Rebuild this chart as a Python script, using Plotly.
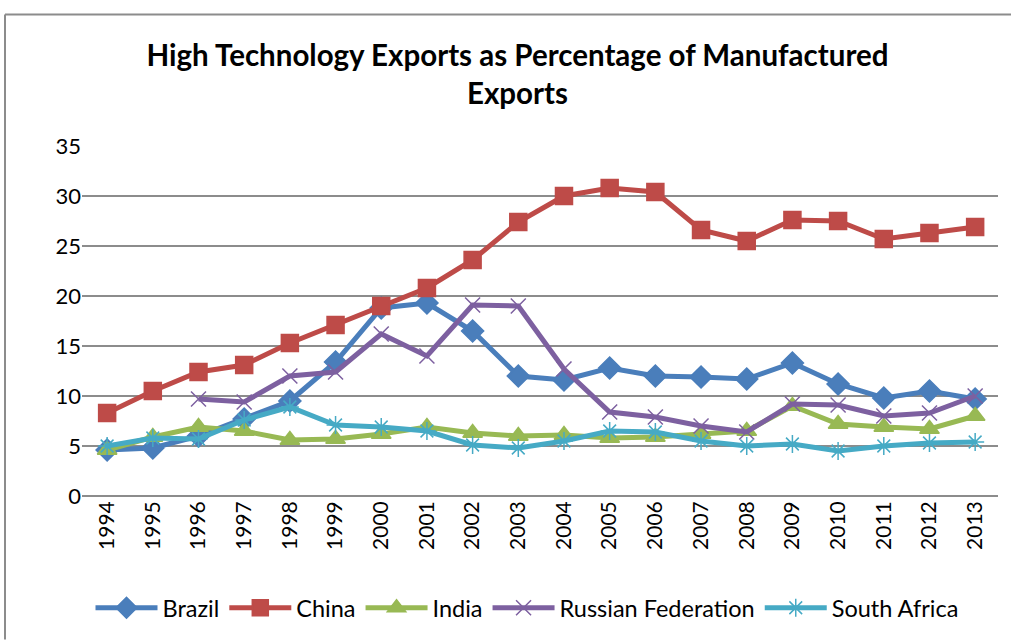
import plotly.graph_objects as go

years = [str(y) for y in range(1994, 2014)]
brazil = [4.6, 4.8, 6.0, 7.7, 9.5, 13.4, 18.8, 19.3, 16.5, 12.0, 11.6, 12.8, 12.0, 11.9, 11.7, 13.3, 11.2, 9.8, 10.5, 9.7]
china = [8.3, 10.5, 12.4, 13.1, 15.3, 17.1, 19.0, 20.8, 23.6, 27.4, 30.0, 30.8, 30.4, 26.6, 25.5, 27.6, 27.5, 25.7, 26.3, 26.9]
india = [4.6, 5.9, 6.9, 6.5, 5.6, 5.7, 6.2, 6.9, 6.3, 6.0, 6.1, 5.8, 5.9, 6.2, 6.5, 9.0, 7.2, 6.9, 6.7, 8.0]
russia = [None, None, 9.7, 9.4, 12.0, 12.4, 16.2, 14.0, 19.1, 19.0, 12.7, 8.4, 7.9, 7.0, 6.4, 9.2, 9.1, 8.0, 8.3, 10.0]
south_africa = [5.0, 5.8, 5.7, 7.6, 8.9, 7.1, 6.9, 6.5, 5.1, 4.8, 5.5, 6.5, 6.4, 5.5, 5.0, 5.2, 4.5, 5.0, 5.3, 5.4]

series = [
    ("Brazil", brazil, "#4A7EBB", "diamond", 17),
    ("China", china, "#BE4B48", "square", 17),
    ("India", india, "#98B954", "triangle-up", 17),
    ("Russian Federation", russia, "#7D60A0", "x-thin-open", 15),
    ("South Africa", south_africa, "#46AAC5", "asterisk-open", 15),
]

fig = go.Figure()
for name, vals, color, sym, size in series:
    fig.add_trace(go.Scatter(
        x=years, y=vals, name=name, mode="lines+markers",
        line=dict(color=color, width=5),
        marker=dict(symbol=sym, size=size, color=color,
                    line=dict(color=color, width=1.5)),
        connectgaps=False,
    ))

font_family = "Lato, 'Open Sans', sans-serif"
W, H = 1011, 641
L, R, T, B = 82, 13, 146, 144
plot_w, plot_h = W - L - R, H - T - B

fig.update_layout(
    width=W, height=H,
    paper_bgcolor="white", plot_bgcolor="white",
    margin=dict(l=L, r=R, t=T, b=B),
    title=dict(text="<b>High Technology Exports as Percentage of Manufactured<br>Exports</b>",
               x=517.5 / W, xanchor="center", y=1 - 66 / H, yanchor="middle", yref="container",
               font=dict(family=font_family, size=29.5, color="black")),
    font=dict(family=font_family, size=22, color="black"),
    showlegend=True,
    legend=dict(orientation="h", x=(527 - L) / plot_w, xanchor="center",
                y=(T + plot_h - 608) / plot_h, yanchor="middle",
                font=dict(size=23.5), tracegroupgap=0, itemwidth=62),
    xaxis=dict(type="category", tickangle=-90, showgrid=False, showline=False,
               range=[-0.55, 19.5], tickfont=dict(size=21), ticks="", ticklen=0),
    yaxis=dict(range=[0, 35], dtick=5, showgrid=True, gridcolor="#8C8C8C", gridwidth=1.5,
               zeroline=True, zerolinecolor="#8C8C8C", zerolinewidth=1.5,
               tickfont=dict(size=22), ticks="", showline=False),
    shapes=[
        dict(type="line", xref="paper", yref="paper",
             x0=(5 - L) / plot_w, x1=(5 - L) / plot_w, y0=-B / plot_h, y1=(T + plot_h - 14) / plot_h,
             line=dict(color="#8C8C8C", width=2)),
        dict(type="line", xref="paper", yref="paper",
             x0=(5 - L) / plot_w, x1=(W - L) / plot_w, y0=(T + plot_h - 14) / plot_h, y1=(T + plot_h - 14) / plot_h,
             line=dict(color="#8C8C8C", width=2)),
    ],
)

fig.write_html("out.html", config={"displayModeBar": False},
               post_script="document.body.style.margin='0px';document.body.style.overflow='hidden';")
